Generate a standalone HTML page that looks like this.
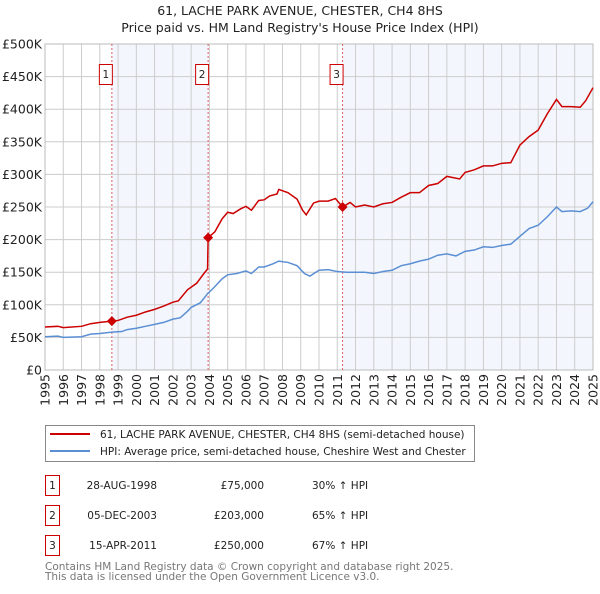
<!DOCTYPE html>
<html><head><meta charset="utf-8"><style>
body{margin:0;background:#fff;font-family:"DejaVu Sans","Liberation Sans",sans-serif}
svg text{font-family:"DejaVu Sans","Liberation Sans",sans-serif}
</style></head><body>
<svg id="c" width="600" height="590" xmlns="http://www.w3.org/2000/svg">
<text x="300" y="15" text-anchor="middle" font-size="12.5" fill="#222">61, LACHE PARK AVENUE, CHESTER, CH4 8HS</text>
<text x="300" y="32" text-anchor="middle" font-size="12.5" fill="#222">Price paid vs. HM Land Registry's House Price Index (HPI)</text>
<g id="plot"></g>
<g>
<rect x="45.5" y="425.5" width="429" height="36" fill="#fff" stroke="#888"/>
<line x1="50" y1="434" x2="90" y2="434" stroke="#cc0000" stroke-width="2"/>
<text x="100" y="438" font-size="10.5" fill="#222">61, LACHE PARK AVENUE, CHESTER, CH4 8HS (semi-detached house)</text>
<line x1="50" y1="451" x2="90" y2="451" stroke="#5b8fd4" stroke-width="2"/>
<text x="100" y="455" font-size="10.5" fill="#222">HPI: Average price, semi-detached house, Cheshire West and Chester</text>
</g>
<g font-size="10.5" fill="#222">
<rect x="45.5" y="475.5" width="14" height="20" fill="#fff" stroke="#cc0000"/><text x="52.5" y="489" text-anchor="middle">1</text>
<text x="157" y="489" text-anchor="end">28-AUG-1998</text><text x="264" y="489" text-anchor="end">£75,000</text><text x="312" y="489">30% ↑ HPI</text>
<rect x="45.5" y="505.5" width="14" height="20" fill="#fff" stroke="#cc0000"/><text x="52.5" y="519" text-anchor="middle">2</text>
<text x="157" y="519" text-anchor="end">05-DEC-2003</text><text x="264" y="519" text-anchor="end">£203,000</text><text x="312" y="519">65% ↑ HPI</text>
<rect x="45.5" y="535.5" width="14" height="20" fill="#fff" stroke="#cc0000"/><text x="52.5" y="549" text-anchor="middle">3</text>
<text x="157" y="549" text-anchor="end">15-APR-2011</text><text x="264" y="549" text-anchor="end">£250,000</text><text x="312" y="549">67% ↑ HPI</text>
</g>
<text x="45" y="570" font-size="10.5" fill="#777">Contains HM Land Registry data © Crown copyright and database right 2025.</text>
<text x="45" y="580" font-size="10.5" fill="#777">This data is licensed under the Open Government Licence v3.0.</text>
</svg>
<script>
const yTicks=[0,50,100,150,200,250,300,350,400,450,500];
const yTickLabels=["£0","£50K","£100K","£150K","£200K","£250K","£300K","£350K","£400K","£450K","£500K"];
const xYears=[1995,1996,1997,1998,1999,2000,2001,2002,2003,2004,2005,2006,2007,2008,2009,2010,2011,2012,2013,2014,2015,2016,2017,2018,2019,2020,2021,2022,2023,2024,2025];
const saleDates=[1998.66,2003.93,2011.29];
const salePrices=[75,203,250];
const saleLabels=["1","2","3"];
const hpiT=[1995,1995.7,1996,1997,1997.5,1998,1998.66,1999.2,1999.5,2000,2000.5,2001,2001.5,2002,2002.4,2002.8,2003,2003.5,2003.9,2004.2,2004.7,2005,2005.5,2006,2006.3,2006.7,2007,2007.5,2007.8,2008.3,2008.8,2009.2,2009.5,2010,2010.5,2011,2011.5,2012,2012.5,2013,2013.5,2014,2014.5,2015,2015.5,2016,2016.5,2017,2017.5,2018,2018.5,2019,2019.5,2020,2020.5,2021,2021.5,2022,2022.5,2023,2023.3,2023.8,2024.3,2024.7,2025];
const hpiV=[51,52,50,51,55,56,58,59,62,64,67,70,73,78,80,90,96,103,117,125,140,146,148,152,148,158,158,163,167,165,160,148,144,153,154,151,150,150,150,148,151,153,160,163,167,170,176,178,175,182,184,189,188,191,193,205,217,222,235,250,243,244,243,248,258];
const priceT=[1995,1995.7,1996,1997,1997.5,1998,1998.66,1999,1999.5,2000,2000.5,2001,2001.5,2002,2002.3,2002.8,2003.3,2003.7,2003.9,2003.93,2004.3,2004.7,2005,2005.3,2005.7,2006,2006.3,2006.7,2007,2007.3,2007.7,2007.8,2008.3,2008.8,2009.1,2009.3,2009.7,2010,2010.5,2010.9,2011.29,2011.7,2012,2012.5,2013,2013.5,2014,2014.5,2015,2015.5,2016,2016.5,2017,2017.7,2018,2018.5,2019,2019.5,2020,2020.5,2021,2021.5,2022,2022.5,2023,2023.3,2023.8,2024.3,2024.6,2025];
const priceV=[66,67,65,67,71,73,75,76,81,84,89,93,98,104,106,123,133,148,155,203,212,232,242,240,247,251,245,260,261,267,270,277,272,262,245,238,256,259,259,263,250,257,250,253,250,255,257,265,272,272,283,286,297,293,303,307,313,313,317,318,345,358,368,393,415,404,404,403,413,433];
const X0=45,X1=593,Y0=370,Y1=44;
const xs=t=>X0+(t-1995)/30*(X1-X0);
const ys=v=>Y0-v/500*(Y0-Y1);
const NS="http://www.w3.org/2000/svg";
const g=document.getElementById('plot');
function mk(tag,attrs){const e=document.createElementNS(NS,tag);for(const k in attrs)e.setAttribute(k,attrs[k]);g.appendChild(e);return e;}
let s1=mk('rect',{x:xs(saleDates[0]),y:Y1,width:xs(saleDates[1])-xs(saleDates[0]),height:Y0-Y1,fill:'#eef3fc',opacity:0.7});


let s2=mk('rect',{x:xs(saleDates[2]),y:Y1,width:X1-xs(saleDates[2]),height:Y0-Y1,fill:'#eef3fc',opacity:0.7});


yTicks.forEach((v,i)=>{
 const l=mk('line',{x1:X0,x2:X1,y1:ys(v),y2:ys(v),stroke:'#ccc','stroke-width':1});
 
 
 const t=mk('text',{x:X0-3,y:ys(v)+4.5,'text-anchor':'end','font-size':'12.5',fill:'#222'});
 
 
 t.textContent=yTickLabels[i];
});
xYears.forEach(yr=>{
 const l=mk('line',{x1:xs(yr),x2:xs(yr),y1:Y1,y2:Y0,stroke:'#ccc','stroke-width':1});
 
 
 const t=mk('text',{x:0,y:0,'text-anchor':'end','font-size':'12.5',fill:'#222',transform:`translate(${xs(yr)+4.5},${Y0+4}) rotate(-90)`});
 
 
 t.textContent=yr;
});
const fr=mk('rect',{x:X0,y:Y1,width:X1-X0,height:Y0-Y1,fill:'none',stroke:'#bbb'});


saleDates.forEach((d,i)=>{
 const l=mk('line',{x1:xs(d),x2:xs(d),y1:Y1,y2:Y0,stroke:'#e06060','stroke-dasharray':'2,2','stroke-width':1});
 
 
 const r=mk('rect',{x:xs(d)-12.5,y:64.5,width:13,height:20,fill:'#fff',stroke:'#cc0000'});
 
 
 const t=mk('text',{x:xs(d)-6,y:78,'text-anchor':'middle','font-size':'10.5',fill:'#222'});
 
 
 t.textContent=saleLabels[i];
});
const hp=mk('polyline',{points:hpiT.map((t,i)=>xs(t)+','+ys(hpiV[i])).join(' '),fill:'none',stroke:'#5b8fd4','stroke-width':1.5});


const pp=mk('polyline',{points:priceT.map((t,i)=>xs(t)+','+ys(priceV[i])).join(' '),fill:'none',stroke:'#cc0000','stroke-width':1.5});


saleDates.forEach((d,i)=>{
 const cx=xs(d),cy=ys(salePrices[i]);
 const c=mk('polygon',{points:`${cx},${cy-5} ${cx+5},${cy} ${cx},${cy+5} ${cx-5},${cy}`,fill:'#cc0000'});
 
 
});
</script>
</body></html>
